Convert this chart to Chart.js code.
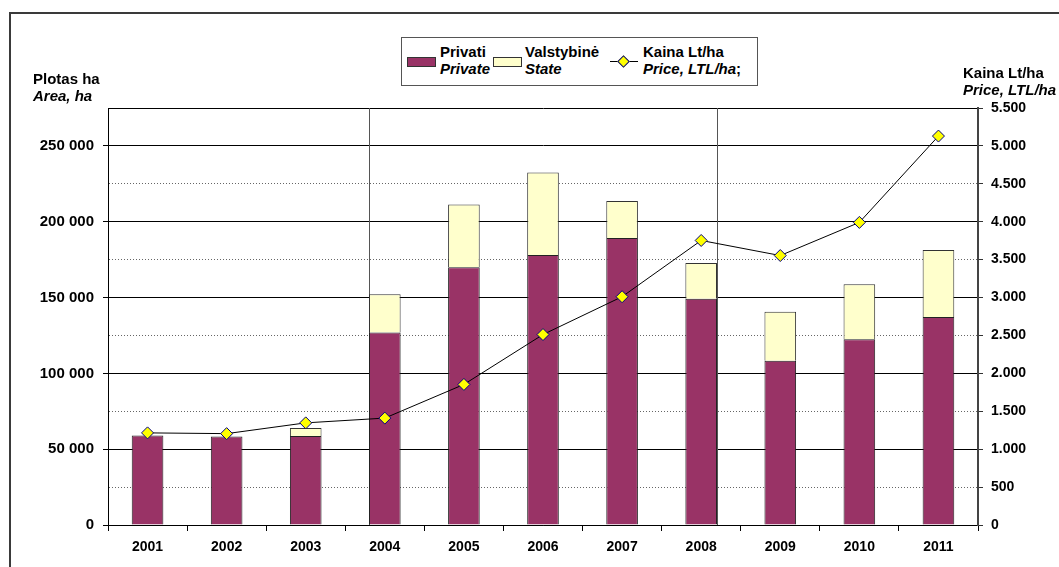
<!DOCTYPE html>
<html>
<head>
<meta charset="utf-8">
<script src="https://cdn.jsdelivr.net/npm/chart.js@4"></script>
<style>
	body { margin: 0; background: #fff; font-family: "Liberation Sans", Arial, sans-serif; }
	#wrap { position: relative; width: 1059px; height: 567px; overflow: hidden; }
	#frame { position: absolute; left: 9px; top: 12px; width: 1200px; height: 700px; border: 2px solid #3a3a3a; }
	#chartBox { position: absolute; left: 0; top: 0; width: 1059px; height: 567px; }
	.txt { position: absolute; font-weight: bold; font-size: 15px; line-height: 17px; color: #000; white-space: nowrap; }
	.txt i { font-style: italic; }
	#legend { position: absolute; left: 401px; top: 37px; width: 355px; height: 47px; border: 1px solid #555; background: #fff; }
	.swatch { position: absolute; width: 27px; height: 8px; border: 1px solid #333; }
	.lineMark { position: absolute; height: 1px; background: #000; }
	.diamond { position: absolute; width: 7px; height: 7px; background: #ffff00; border: 1px solid #000080; transform: rotate(45deg); }
</style>
</head>
<body>
<div id="wrap">
	<div id="frame"></div>
	<div id="chartBox"><canvas id="chartArea"></canvas></div>
	<div class="txt" style="left:33px; top:70px;">Plotas ha<br><i>Area, ha</i></div>
	<div class="txt" style="left:963px; top:64px;">Kaina Lt/ha<br><i>Price, LTL/ha</i></div>
	<div id="legend">
		<div class="swatch" style="left:5px; top:19px; background:#993366;"></div>
		<div class="txt" style="left:38px; top:5px;">Privati<br><i>Private</i></div>
		<div class="swatch" style="left:91px; top:19px; background:#ffffcc;"></div>
		<div class="txt" style="left:123px; top:5px;">Valstybinė<br><i>State</i></div>
		<div class="lineMark" style="left:208px; top:23px; width:28px;"></div>
		<div class="diamond" style="left:217px; top:19px;"></div>
		<div class="txt" style="left:241px; top:5px;">Kaina Lt/ha<br><i>Price, LTL/ha</i>;</div>
	</div>
</div>
<script>
// Data
var years = ['2001', '2002', '2003', '2004', '2005', '2006', '2007', '2008', '2009', '2010', '2011'];
var privateArea = [59100, 58300, 58700, 127000, 170000, 178000, 189200, 149200, 108400, 122500, 137100];
var stateArea = [0, 0, 5300, 25100, 41300, 54500, 24500, 23500, 32200, 36200, 44200];
var priceLtl = [1215, 1205, 1347, 1410, 1854, 2512, 3011, 3753, 3554, 3991, 5130];
var periodYears = ['2004', '2008'];

function groupDigits(v, sep) {
	return String(v).replace(/\B(?=(\d{3})+(?!\d))/g, sep);
}

// Vertical lines: left side of the first period bar, right side of the last one
var periodLines = {
	id: 'periodLines',
	beforeDatasetsDraw: function(chart) {
		var bars = chart.getDatasetMeta(1).data;
		var first = bars[years.indexOf(periodYears[0])];
		var last = bars[years.indexOf(periodYears[1])];
		var xs = [first.x - first.width / 2, last.x + last.width / 2];
		var area = chart.chartArea;
		var ctx = chart.ctx;
		ctx.save();
		ctx.strokeStyle = '#555';
		ctx.lineWidth = 1;
		xs.forEach(function(x) {
			x = Math.round(x) + 0.5;
			ctx.beginPath();
			ctx.moveTo(x, area.top);
			ctx.lineTo(x, area.bottom);
			ctx.stroke();
		});
		ctx.restore();
	}
};

var fontFamily = '"Liberation Sans", Arial, sans-serif';

var ctxChart = document.getElementById('chartArea');
var chart = new Chart(ctxChart, {
	type: 'bar',
	data: {
		labels: years,
		datasets: [
			{
				type: 'line',
				label: 'Kaina Lt/ha',
				data: priceLtl,
				yAxisID: 'y1',
				order: 0,
				borderColor: '#000',
				borderWidth: 1,
				pointStyle: 'rectRot',
				pointRadius: 6,
				pointBackgroundColor: '#ffff00',
				pointBorderColor: '#000080',
				pointBorderWidth: 1
			},
			{
				label: 'Privati',
				data: privateArea,
				yAxisID: 'y',
				order: 1,
				backgroundColor: '#993366',
				borderColor: '#222',
				borderWidth: 1
			},
			{
				label: 'Valstybinė',
				data: stateArea,
				yAxisID: 'y',
				order: 1,
				backgroundColor: '#ffffcc',
				borderColor: '#333',
				borderWidth: 1
			}
		]
	},
	options: {
		responsive: true,
		maintainAspectRatio: false,
		animation: false,
		layout: { padding: { top: 108, left: 0, right: 0, bottom: 0 } },
		datasets: { bar: { barPercentage: 0.4, categoryPercentage: 1 } },
		plugins: { legend: { display: false }, tooltip: { enabled: false } },
		scales: {
			x: {
				stacked: true,
				grid: { drawOnChartArea: false, tickLength: 6, tickColor: '#000', offset: true },
				border: { color: '#000' },
				ticks: { color: '#000', font: { family: fontFamily, size: 14, weight: 'bold' }, padding: 8, maxRotation: 0 },
				afterFit: function(scale) { scale.height = 42; }
			},
			y: {
				stacked: true,
				position: 'left',
				min: 0,
				max: 275000,
				ticks: {
					stepSize: 25000,
					color: '#000',
					font: { family: fontFamily, size: 15, weight: 'bold' },
					padding: 9,
					callback: function(v) { return v % 50000 === 0 ? groupDigits(v, ' ') : ''; }
				},
				grid: {
					tickLength: 5,
					color: function(c) {
						if (!c.tick) return '#000';
						return (c.tick.value % 50000 === 0 || c.tick.value === c.scale.max) ? '#000' : '#666';
					},
					tickColor: function(c) {
						return c.tick && c.tick.value % 50000 === 0 ? '#000' : 'rgba(0,0,0,0)';
					}
				},
				border: {
					color: '#000',
					dash: function(c) {
						if (!c.tick) return [];
						return (c.tick.value % 50000 === 0 || c.tick.value === c.scale.max) ? [] : [1, 2];
					}
				},
				afterFit: function(scale) { scale.width = 108; }
			},
			y1: {
				position: 'right',
				min: 0,
				max: 5500,
				ticks: {
					stepSize: 500,
					color: '#000',
					font: { family: fontFamily, size: 14, weight: 'bold' },
					padding: 8,
					callback: function(v) { return groupDigits(v, '.'); }
				},
				grid: { drawOnChartArea: false, tickLength: 5, tickColor: '#333' },
				border: { color: '#444', width: 2 },
				afterFit: function(scale) { scale.width = 81; }
			}
		}
	},
	plugins: [periodLines]
});
</script>
</body>
</html>
